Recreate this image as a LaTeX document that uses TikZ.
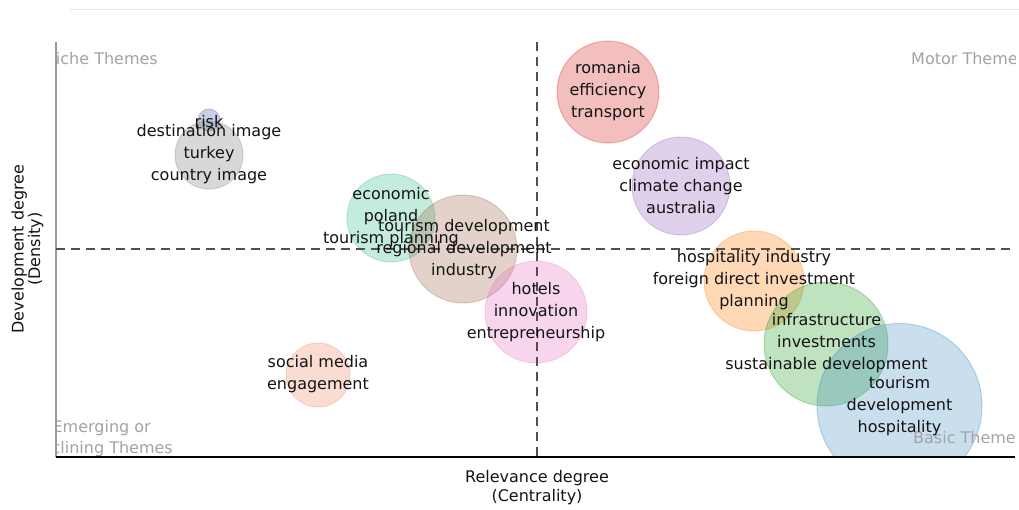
\documentclass[tikz,border=0pt]{standalone}
\usepackage{fontspec}
\setmainfont{DejaVu Sans}
\definecolor{ink}{HTML}{141414}
\definecolor{qgray}{HTML}{A3A3A3}
\definecolor{axgray}{HTML}{9A9A9A}
\definecolor{dashc}{HTML}{505050}
\definecolor{topc}{HTML}{E8E8E8}
\definecolor{cRisk}{HTML}{4964AA}
\definecolor{cGray}{HTML}{7F7F7F}
\definecolor{cRed}{HTML}{D62728}
\definecolor{cPurple}{HTML}{9467BD}
\definecolor{cMint}{HTML}{3CBF8A}
\definecolor{cBrown}{HTML}{A0694F}
\definecolor{cPink}{HTML}{E377C2}
\definecolor{cSalmon}{HTML}{F08A6A}
\definecolor{cOrange}{HTML}{FF7F0E}
\definecolor{cGreen}{HTML}{2CA02C}
\definecolor{cBlue}{HTML}{2A7FBA}
\begin{document}
\begin{tikzpicture}[x=1pt,y=-1pt,
  bubble/.style={circle, inner sep=0pt, line width=1pt, fill opacity=0.3, draw opacity=0.3, minimum size=#1},
  btext/.style={align=center, inner sep=0pt, text=ink, font=\fontsize{16}{22}\selectfont},
  qlab/.style={inner sep=0pt, text=qgray, font=\fontsize{16}{22}\selectfont},
  axlab/.style={inner sep=0pt, text=ink, font=\fontsize{16}{22}\selectfont},
  quadline/.style={dashc, line width=1.6pt, dash pattern=on 9pt off 6pt},
]
\useasboundingbox (0,0) rectangle (1019,509);
% coordinates
\coordinate (tl1) at (70,9);
\coordinate (tl2) at (1019,9);
\coordinate (ytop) at (56,42);
\coordinate (orig) at (56,457);
\coordinate (xend) at (1015,457);
\coordinate (hL) at (56,249);
\coordinate (hR) at (1015,249);
\coordinate (vT) at (537,42);
\coordinate (vB) at (537,457);
\draw[topc, line width=1pt] (tl1) -- (tl2);
% bubbles
\begin{scope}
\clip (56,40) rectangle (1015,457);
\node[bubble=22pt, fill=cRisk, draw=cRisk] (bRisk) at (209,120) {};
\node[bubble=68pt, fill=cGray, draw=cGray] (bTurkey) at (209,155) {};
\node[bubble=102pt, fill=cRed, draw=cRed] (bRomania) at (608,92) {};
\node[bubble=98pt, fill=cPurple, draw=cPurple] (bAus) at (681,186) {};
\node[bubble=88pt, fill=cMint, draw=cMint] (bPoland) at (391,218) {};
\node[bubble=108pt, fill=cBrown, draw=cBrown] (bRegional) at (463,249) {};
\node[bubble=102pt, fill=cPink, draw=cPink] (bHotels) at (536,312) {};
\node[bubble=64pt, fill=cSalmon, draw=cSalmon] (bSocial) at (318,375) {};
\node[bubble=100pt, fill=cOrange, draw=cOrange] (bHosp) at (754,281) {};
\node[bubble=124pt, fill=cGreen, draw=cGreen] (bInfra) at (826,344) {};
\node[bubble=165pt, fill=cBlue, draw=cBlue, fill opacity=0.25] (bTourism) at (899.5,406) {};
% quadrant labels
\node[qlab, anchor=base east] (qNiche) at (158,64) {Niche Themes};
\node[qlab, anchor=base west] (qMotor) at (911,64) {Motor Themes};
\node[qlab, anchor=base east] (qEmerg) at (151,432) {Emerging or};
\node[qlab, anchor=base east] (qDecl) at (173,453) {Declining Themes};
\node[qlab, anchor=base west] (qBasic) at (913,443) {Basic Themes};
\end{scope}
% axes
\draw[axgray, line width=1.5pt] (ytop) -- (orig);
\draw[black, line width=1.5pt] (orig) -- (xend);
\draw[quadline] (hL) -- (hR);
\draw[quadline] (vT) -- (vB);
% bubble texts
\node[btext] (tRisk) at (209,122) {risk};
\node[btext] (tTurkey) at (209,154) {destination image\\turkey\\country image};
\node[btext] (tRomania) at (608,91.5) {romania\\efficiency\\transport};
\node[btext] (tAus) at (681,185.5) {economic impact\\climate change\\australia};
\node[btext] (tPoland) at (391,217) {economic\\poland\\tourism planning};
\node[btext] (tRegional) at (464,249) {tourism development\\regional development\\industry};
\node[btext] (tHotels) at (536,312) {hotels\\innovation\\entrepreneurship};
\node[btext] (tSocial) at (318,374) {social media\\engagement};
\node[btext] (tHosp) at (754,280) {hospitality industry\\foreign direct investment\\planning};
\node[btext] (tInfra) at (826.5,343.5) {infrastructure\\investments\\sustainable development};
\node[btext] (tTourism) at (899.5,406.5) {tourism\\development\\hospitality};
% axis titles
\node[axlab, anchor=base] (xl1) at (537,482) {Relevance degree};
\node[axlab, anchor=base] (xl2) at (537,501) {(Centrality)};
\node[axlab, rotate=90, anchor=base] (yl1) at (23.5,249) {Development degree};
\node[axlab, rotate=90, anchor=base] (yl2) at (40,249) {(Density)};
\end{tikzpicture}
\end{document}
